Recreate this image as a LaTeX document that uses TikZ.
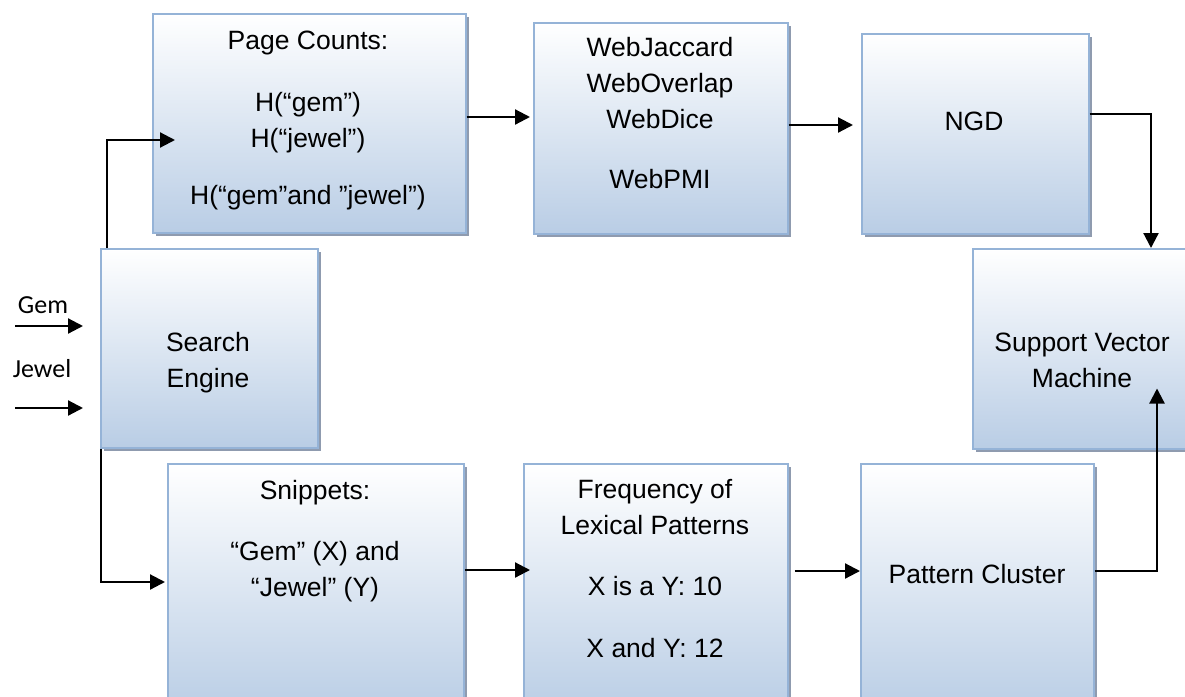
\documentclass[tikz,border=0pt]{standalone}
\usepackage{fontspec}
\setmainfont{Liberation Sans}
\newfontfamily\calibrifont{Carlito}
\definecolor{boxblue}{RGB}{185, 205, 229}
\definecolor{boxedge}{RGB}{149, 179, 215}
\definecolor{boxshadow}{RGB}{143, 155, 175}
\usetikzlibrary{arrows.meta, calc, shadows}

\tikzset{
  stage/.style={draw=boxedge, line width=1.5pt, top color=white, bottom color=boxblue,
    drop shadow={shadow xshift=3.5pt, shadow yshift=-3.5pt, fill=boxshadow, opacity=1},
    inner sep=0pt, anchor=north west},
  boxtext/.style={font=\fontsize{26.5}{36}\selectfont, align=center, anchor=base, inner sep=0pt},
  inlabel/.style={font=\calibrifont\fontsize{26}{30}\selectfont, anchor=base, inner sep=0pt},
  conn/.style={line width=2.2pt, -{Triangle[length=15pt, width=15pt]}},
}

\begin{document}
\begin{tikzpicture}[x=1pt, y=-1pt]
  \useasboundingbox (0,0) rectangle (1185,696);
  \clip (0,0) rectangle (1185,696);

  % top row
  \node[stage, minimum width=313pt, minimum height=219pt] (pc) at (152,13) {};
  \node[stage, minimum width=254pt, minimum height=211pt] (web) at (533,22) {};
  \node[stage, minimum width=227pt, minimum height=200pt] (ngd) at (861,33) {};

  % middle row
  \node[stage, minimum width=217pt, minimum height=199pt] (se) at (100,248) {};
  \node[stage, minimum width=220pt, minimum height=200pt] (svm) at (972,248) {};

  % bottom row
  \node[stage, minimum width=296pt, minimum height=250pt] (snip) at (167,463) {};
  \node[stage, minimum width=264pt, minimum height=250pt] (freq) at (523,463) {};
  \node[stage, minimum width=233pt, minimum height=250pt] (pat) at (860,463) {};

  % texts (anchored at the last line)
  \node[boxtext] (pctext) at (308,204) {Page Counts:\\[26pt] H(“gem”)\\ H(“jewel”)\\[21pt] H(“gem”and ”jewel”)};
  \node[boxtext] (webtext) at (660,188) {WebJaccard\\ WebOverlap\\ WebDice\\[24pt] WebPMI};
  \node[boxtext] (ngdtext) at (974,130) {NGD};
  \node[boxtext] (setext) at (208,387) {Search\\ Engine};
  \node[boxtext] (svmtext) at (1082,387) {Support Vector\\ Machine};
  \node[boxtext] (sniptext) at (315,596) {Snippets:\\[25pt] “Gem” (X) and\\ “Jewel” (Y)};
  \node[boxtext] (freqtext) at (655,657) {Frequency of\\ Lexical Patterns\\[25pt] X is a Y: 10\\[26pt] X and Y: 12};
  \node[boxtext] (pattext) at (977,583) {Pattern Cluster};
  \node[inlabel] (gemlbl) at (43,313) {Gem};
  \node[inlabel] (jewellbl) at (42,377) {Jewel};

  % inputs
  \coordinate (gemA) at (15,326);
  \coordinate (jewelA) at (15,408);
  \draw[conn] (gemA) -- ($(se.west |- gemA)+(-17,0)$);
  \draw[conn] (jewelA) -- ($(se.west |- jewelA)+(-17,0)$);

  % flow
  \draw[conn] ($(se.north west)+(7,0)$) |- ($(pc.west |- 0,140)+(23,0)$);
  \draw[conn] ($(se.south west)+(1,0)$) |- ($(snip.west |- 0,582)+(-2,0)$);
  \draw[conn] (pc.east |- 0,117) -- ($(web.west |- 0,117)+(-3,0)$);
  \draw[conn] (web.east |- 0,125) -- ($(ngd.west |- 0,125)+(-8,0)$);
  \draw[conn] (ngd.east |- 0,114) -| ($(svm.north west)+(179,0)$);
  \draw[conn] (snip.east |- 0,570) -- ($(freq.west |- 0,570)+(7,0)$);
  \draw[conn] ($(freq.east |- 0,571)+(6,0)$) -- (pat.west |- 0,571);
  \draw[conn] (pat.east |- 0,571) -| ($(svm.south west)+(185,-61)$);
\end{tikzpicture}
\end{document}
